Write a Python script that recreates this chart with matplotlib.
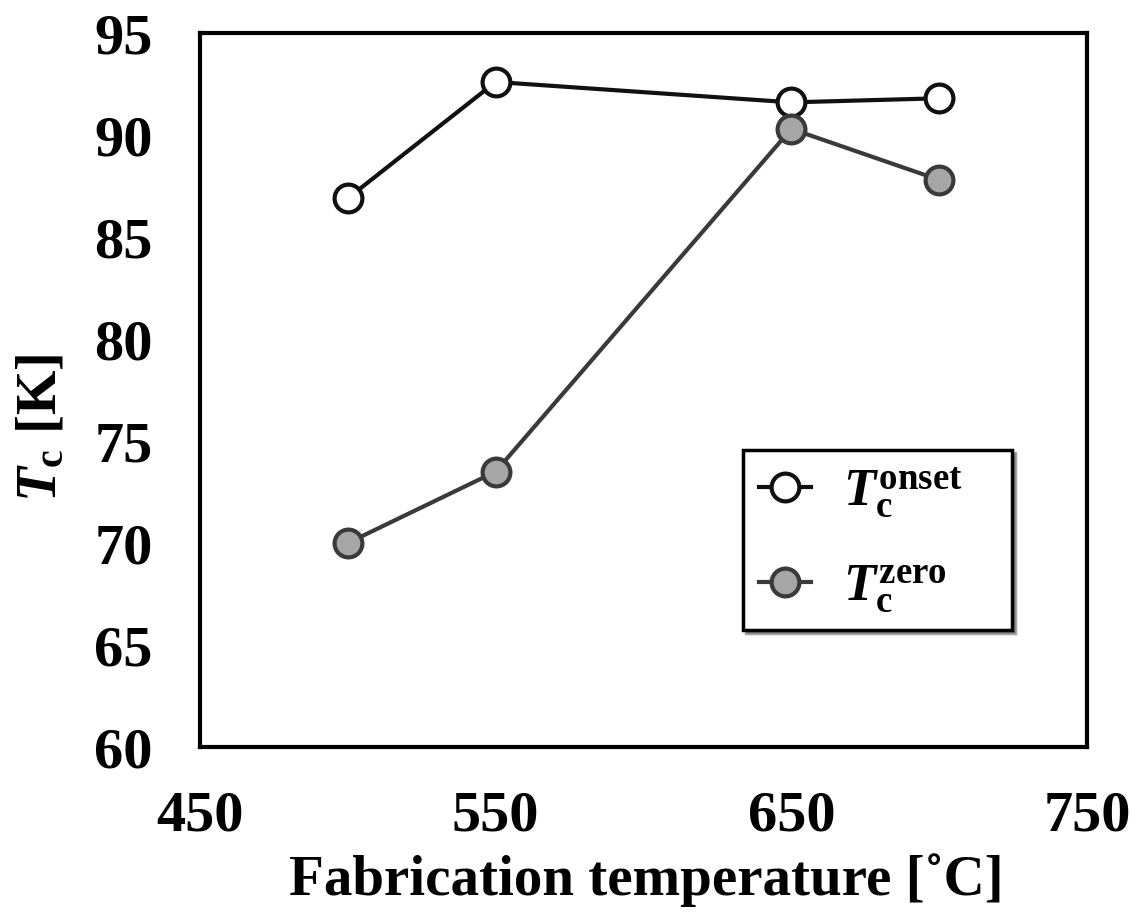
import matplotlib
matplotlib.use("Agg")
import matplotlib.pyplot as plt

# fabrication temperature [C]
temps = [500, 550, 650, 700]
# critical temperatures [K]
tc_onset = [86.9, 92.6, 91.6, 91.8]
tc_zero = [70.0, 73.5, 90.3, 87.8]

x_ticks = [450, 550, 650, 750]
y_ticks = [60, 65, 70, 75, 80, 85, 90, 95]

plt.rcParams['font.family'] = 'Liberation Serif'
plt.rcParams['font.weight'] = 'bold'
plt.rcParams['mathtext.fontset'] = 'custom'
plt.rcParams['mathtext.rm'] = 'Liberation Serif:bold'
plt.rcParams['mathtext.it'] = 'Liberation Serif:bold:italic'
plt.rcParams['mathtext.bf'] = 'Liberation Serif:bold'

fig = plt.figure(figsize=(11.41, 9.18), dpi=100)
ax = fig.add_axes([200 / 1141, 1 - 747 / 918, 887 / 1141, 714 / 918])

ax.plot(temps, tc_onset, color="#111111", lw=3, marker="o", ms=20,
        mfc="white", mec="#111111", mew=3,
        label=r"$\mathit{T}_\mathrm{c}^\mathrm{onset}$", zorder=3)
ax.plot(temps, tc_zero, color="#3a3a3a", lw=3, marker="o", ms=20,
        mfc="#a6a6a6", mec="#3a3a3a", mew=3,
        label=r"$\mathit{T}_\mathrm{c}^\mathrm{zero}$", zorder=3)

ax.set_xlim(450, 750)
ax.set_ylim(60, 95)
ax.set_xticks(x_ticks)
ax.set_yticks(y_ticks)
ax.tick_params(length=0, labelsize=42)
ax.tick_params(axis="x", pad=31)
ax.tick_params(axis="y", pad=34)
for s in ax.spines.values():
    s.set_linewidth(3)

ax.set_xlabel("Fabrication temperature [˚C]", fontsize=41, fontweight="bold")
ax.xaxis.label.set_va("baseline")
ax.xaxis.set_label_coords(0.503, -0.207)
ax.set_ylabel(r"$\mathit{T}_\mathrm{c}$ [K]", fontsize=41, fontweight="bold")
ax.yaxis.set_label_coords(-0.149, 0.447)

# expand mode keeps the entries left aligned inside a wider frame
leg = ax.legend(loc="lower left", bbox_to_anchor=(0.612, 0.164, 0.304, 0.01),
                mode="expand", fontsize=38,
                frameon=True, fancybox=False, shadow=True, edgecolor="black",
                handlelength=1.0, borderpad=0.3, labelspacing=0.8, handletextpad=0.6,
                borderaxespad=0)
leg.get_frame().set_linewidth(2.5)

fig.savefig("out.png", dpi=100)
